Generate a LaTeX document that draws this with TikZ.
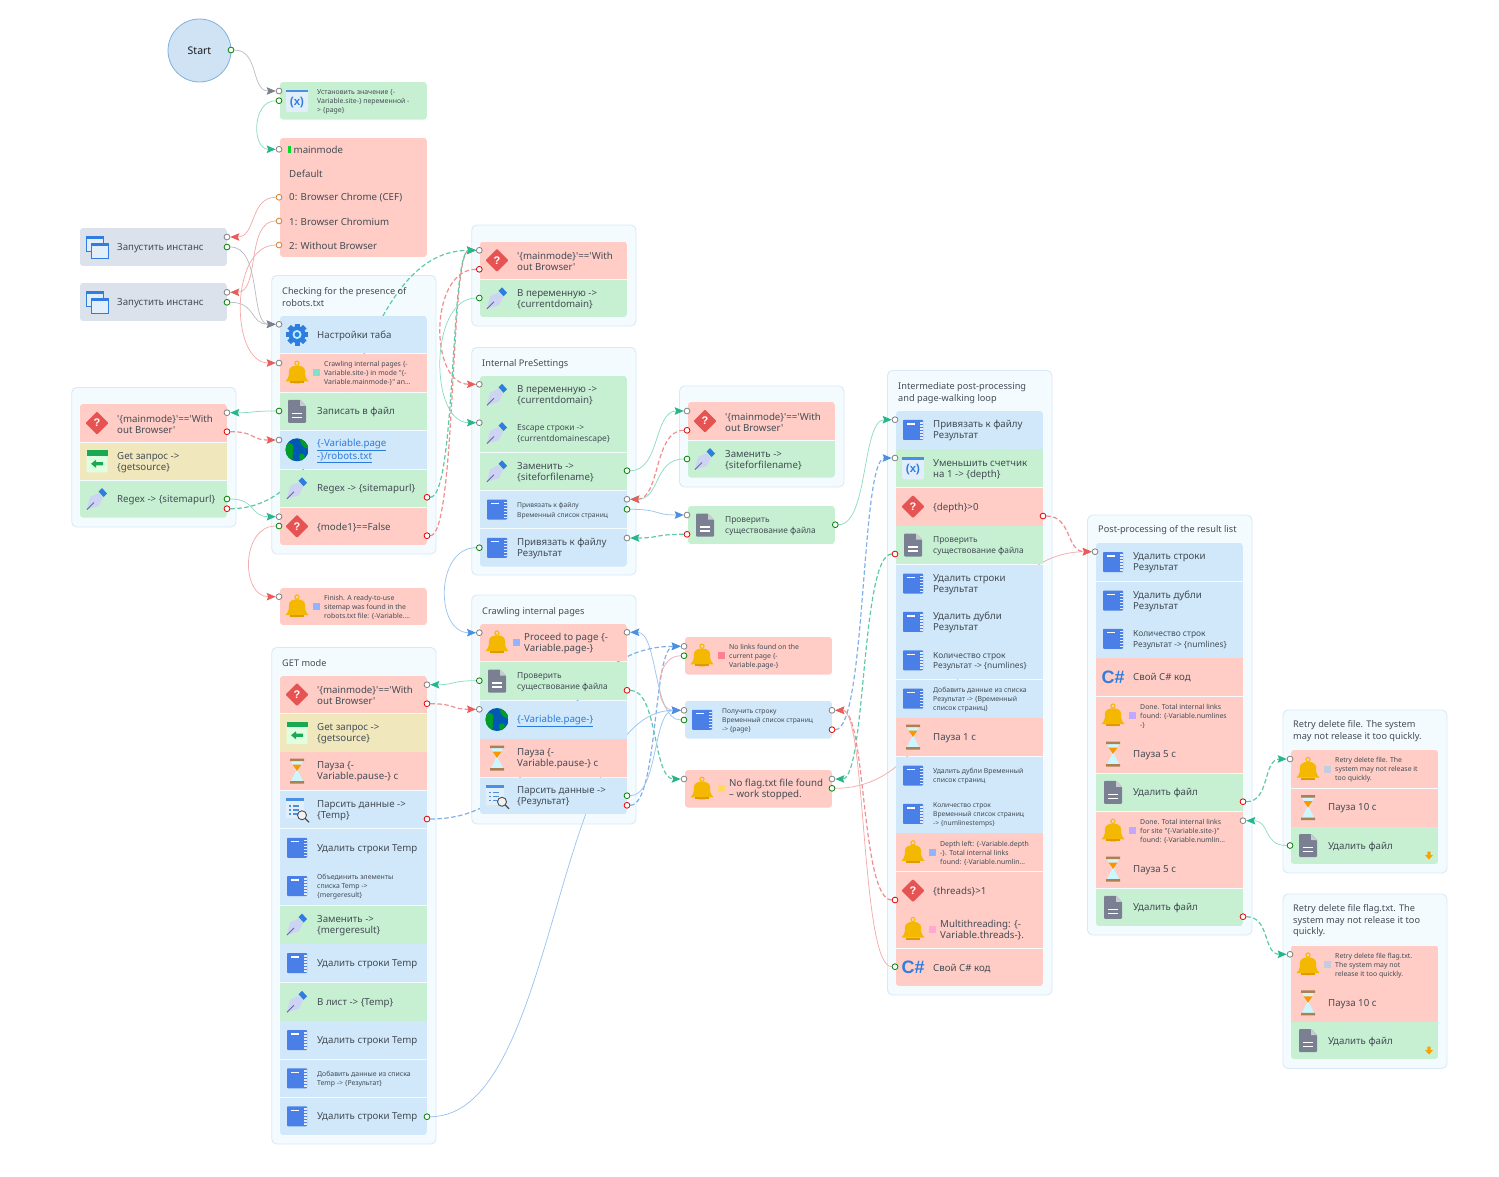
\documentclass[tikz,border=0pt]{standalone}
\usepackage{fontspec}
\usetikzlibrary{arrows.meta}
\newfontfamily\uifont{Noto Sans}
\newfontfamily\uibold{Liberation Sans}
\definecolor{rowred}{HTML}{FFCDC6}
\definecolor{rowgreen}{HTML}{C7F0D2}
\definecolor{rowblue}{HTML}{D0E8F9}
\definecolor{rowyellow}{HTML}{F0E8BC}
\definecolor{rowslate}{HTML}{DCE2EC}
\definecolor{grpfill}{HTML}{F4FBFF}
\definecolor{grpline}{HTML}{D8E9F8}
\definecolor{txt}{HTML}{434C55}
\definecolor{linkb}{HTML}{2A7BE0}
\definecolor{tealS}{HTML}{8EDCC4}
\definecolor{tealL}{HTML}{5CC9A7}
\definecolor{tealA}{HTML}{27B58A}
\definecolor{salmS}{HTML}{F4ABAB}
\definecolor{salmL}{HTML}{EE8E8E}
\definecolor{salmA}{HTML}{E85C5C}
\definecolor{blueS}{HTML}{9CC4F0}
\definecolor{blueL}{HTML}{7FB0EA}
\definecolor{blueA}{HTML}{4A90E2}
\definecolor{greyL}{HTML}{BDBDC4}
\definecolor{greyA}{HTML}{7A8090}
\definecolor{qred}{HTML}{E55353}
\definecolor{docg}{HTML}{7A7F92}
\definecolor{bookb}{HTML}{4A7FE8}
\definecolor{gold}{HTML}{F5B800}
\definecolor{golddk}{HTML}{E09A00}
\definecolor{gearb}{HTML}{2F7DE1}
\definecolor{nibl}{HTML}{CDD3F2}
\definecolor{varbg}{HTML}{E3EEFB}
\definecolor{sqteal}{HTML}{80E0C8}
\definecolor{sqblue}{HTML}{90B4FF}
\definecolor{sqviolet}{HTML}{C0A8FF}
\definecolor{sqpink}{HTML}{FFA8D0}
\definecolor{sqred}{HTML}{FF8090}
\definecolor{sqyellow}{HTML}{FFD860}
\definecolor{sqgrey}{HTML}{C4CCE0}
\definecolor{startfill}{HTML}{D0E3F5}
\definecolor{startline}{HTML}{7FB0E0}
\newcommand\szA{\uifont\fontsize{9.7}{11}\selectfont}
\newcommand\szB{\uifont\fontsize{8.4}{10.5}\selectfont}
\newcommand\szC{\uifont\fontsize{6.7}{10}\selectfont}
\newcommand\szD{\uifont\fontsize{6.9}{9}\selectfont}
\newcommand\szE{\uifont\fontsize{6.7}{9}\selectfont}
\newcommand\szH{\uifont\fontsize{9.2}{11.5}\selectfont}
\tikzset{
 rowshape/.style={minimum width=147pt,inner sep=0pt,outer sep=0pt,draw=none},
 rowtext/.style={inner sep=0pt,align=left,text=txt},
 headtext/.style={inner sep=0pt,align=left,text=txt,anchor=north west,font=\szH},
 grpbox/.style={fill=grpfill,draw=grpline,line width=.9pt,rounded corners=5pt},
 portbase/.style={circle,fill=white,minimum size=5.8pt,inner sep=0pt,line width=.8pt},
 pin/.style={portbase,draw=gray},
 pok/.style={portbase,draw=green!50!black},
 perr/.style={portbase,draw=red!90!black},
 pcase/.style={portbase,draw=brown!70!orange},
 cteal/.style={draw=tealS,line width=.75pt,-{Stealth[length=9pt,width=7.5pt,inset=1.5pt,color=tealA]}},
 ctealdash/.style={draw=tealL,line width=1.2pt,dash pattern=on 4.5pt off 2.5pt,-{Stealth[length=9pt,width=7.5pt,inset=1.5pt,color=tealA]}},
 csalm/.style={draw=salmS,line width=.75pt,-{Stealth[length=9pt,width=7.5pt,inset=1.5pt,color=salmA]}},
 csalmdash/.style={draw=salmL,line width=1.2pt,dash pattern=on 4.5pt off 2.5pt,-{Stealth[length=9pt,width=7.5pt,inset=1.5pt,color=salmA]}},
 cblue/.style={draw=blueS,line width=.75pt,-{Stealth[length=9pt,width=7.5pt,inset=1.5pt,color=blueA]}},
 cbluedash/.style={draw=blueL,line width=1.2pt,dash pattern=on 4.5pt off 2.5pt,-{Stealth[length=9pt,width=7.5pt,inset=1.5pt,color=blueA]}},
 cgrey/.style={draw=greyL,line width=.75pt,-{Stealth[length=9pt,width=7.5pt,inset=1.5pt,color=greyA]}},
}
\pgfdeclarelayer{grp}\pgfdeclarelayer{cnn}\pgfdeclarelayer{rws}
\pgfsetlayers{grp,cnn,rws,main}
% icons, drawn about (0,0), y downwards
\newcommand\icQ{\fill[qred,rounded corners=1pt] (0,-11.5)--(11.5,0)--(0,11.5)--(-11.5,0)--cycle;
 \node[text=white,inner sep=0pt,font=\uibold\fontsize{11}{11}\selectfont\bfseries] (qmark) at (0,0) {?};}
\newcommand\icDoc{\fill[docg,rounded corners=1pt] (-9,-11.5)--(3,-11.5)--(9,-5.5)--(9,11.5)--(-9,11.5)--cycle;
 \fill[docg!40!white] (3,-11.5)--(9,-5.5)--(3,-5.5)--cycle;
 \draw[white,line width=1.3pt] (-5,2)--(5,2) (-5,6)--(5,6);}
\newcommand\icBook{\fill[bookb,rounded corners=.8pt] (-10,-10) rectangle (10,10);
 \draw[white,line width=1.2pt] (-6,-6)--(2,-6);
 \foreach \k in {-8,-5,-2,1,4,7}{\fill[white!85!bookb] (6.5,\k) rectangle (10,\k+1.6);}}
\newcommand\icPen{\fill[nibl] (-10,10.5)--(-7,-2)--(1.5,-6)--(6,-1.5)--(2,7)--cycle;
 \fill[gearb] (1.5,-7.5)--(5,-11)--(10,-5.5)--(6.5,-2)--cycle;
 \draw[gray!80!blue,line width=.8pt] (-10,10.5)--(-3,3.5);}
\newcommand\icBell{\fill[gold] (-11.5,8.5) .. controls (-8,5) and (-8,2) .. (-8,-2) .. controls (-8,-9) and (8,-9) .. (8,-2) .. controls (8,2) and (8,5) .. (11.5,8.5) -- cycle;
 \fill[golddk] (-7,8.5) rectangle (7,10.5);
 \fill[golddk] (-3,10.5) arc (180:0:3 and -1.6) -- cycle;
 \draw[gold,line width=1pt] (0,-9.5) circle (2.1pt);}
\newcommand\icGlobe{\begin{scope}\clip (0,0) circle (11.5pt);
 \fill[blue!50!cyan!70!black] (-12,-12) rectangle (12,12);
 \fill[green!55!black!85!cyan] (-11,-6) .. controls (-5,-9) and (-2,-3) .. (-4,1) .. controls (-5,6) and (-3,9) .. (-6,12) -- (-12,12) -- cycle;
 \fill[green!55!black!85!cyan] (3,-11) .. controls (8,-9) and (12,-5) .. (11,-1) .. controls (6,-2) and (3,-6) .. (3,-11) -- cycle;
 \fill[green!55!black!85!cyan] (3,4) .. controls (8,3) and (10,7) .. (5,11) .. controls (2,9) and (1,6) .. (3,4) -- cycle;
 \end{scope}}
\newcommand\icHour{\fill[blue!15!cyan!20!white] (-6,-10)--(6,-10)--(1,0)--(6,10)--(-6,10)--(-1,0)--cycle;
 \fill[orange!85!yellow] (-4.5,-6.5)--(4.5,-6.5)--(0,0)--cycle;
 \fill[brown!70!gray] (-7,-12.5) rectangle (7,-10) (-7,10) rectangle (7,12.5);}
\newcommand\icVar{\fill[varbg,rounded corners=1.5pt] (-11,-11) rectangle (11,11);
 \fill[blueA] (-11,-11) rectangle (11,-8.5);
 \node[text=gearb,inner sep=0pt,font=\uibold\fontsize{11.5}{11.5}\selectfont\bfseries] (varmark) at (0,1.5) {(x)};}
\newcommand\icGet{\fill[green!12!white,rounded corners=1pt] (-10.5,-11) rectangle (10.5,11);
 \fill[green!50!black!75!cyan!90!white] (-10.5,-11) rectangle (10.5,-5.5);
 \fill[green!50!black!75!cyan!90!white] (-6,2.5)--(-1,-1.5)--(-1,.8)--(6,.8)--(6,4.2)--(-1,4.2)--(-1,6.5)--cycle;}
\newcommand\icParse{\fill[varbg] (-11,-11) rectangle (7,9);
 \fill[blueA] (-11,-11) rectangle (7,-8);
 \foreach \k in {-4,0,4}{\fill[blueA] (-8,\k) rectangle (-6,\k+1.6);\fill[blueA] (-4,\k) rectangle (2,\k+1.6);}
 \fill[white!90!gray,draw=gray!60!black,line width=.9pt] (5,6) circle (4.5pt);
 \draw[gray!60!black,line width=1.1pt] (8.2,9.2)--(12,13);}
\newcommand\icGear{\foreach \a in {0,45,...,315}{\fill[gearb,rotate=\a] (-2.5,-11) rectangle (2.5,0);}
 \fill[gearb] (0,0) circle (8.5pt);
 \fill[blue!10!cyan!30!white] (0,0) circle (4.5pt);
 \fill[gearb] (0,0) circle (2.5pt);}
\newcommand\icWin{\fill[varbg,draw=gearb,line width=.9pt] (-10.5,-11) rectangle (6,4);
 \fill[gearb] (-10.5,-11) rectangle (6,-8.5);
 \fill[varbg,draw=gearb,line width=.9pt] (-5.5,-4) rectangle (11,11);
 \fill[gearb] (-5.5,-4) rectangle (11,-1.5);}
\newcommand\icCs{\node[text=gearb,inner sep=0pt,font=\uibold\fontsize{18}{18}\selectfont\bfseries] (csmark) at (0,0) {C\#};}
\newcommand\icDown{\fill[orange!75!yellow] (-1.6,-4)--(1.6,-4)--(1.6,-.5)--(4,-.5)--(0,4)--(-4,-.5)--(-1.6,-.5)--cycle;}
% rows
\newcommand\rowi[8]{\node[rowshape,fill=#5,minimum height={#4-#3},anchor=north west] (#1) at (#2,#3) {};
 \begin{scope}[shift={({#2+17},{(#3+#4)/2})}]#6\end{scope}
 \node[rowtext,anchor=west,font=#7] (#1t) at ({#2+37},{(#3+#4)/2+1}) {#8};}
\newcommand\rowb[8]{\node[rowshape,fill=#5,minimum height={#4-#3},anchor=north west] (#1) at (#2,#3) {};
 \begin{scope}[shift={({#2+17},{(#3+#4)/2})}]\icBell\end{scope}
 \fill[#6] ({#2+33},{(#3+#4)/2-3.5}) rectangle ({#2+40},{(#3+#4)/2+3.5});
 \node[rowtext,anchor=west,font=#7] (#1t) at ({#2+44},{(#3+#4)/2+1}) {#8};}
\newcommand\grpbg[4]{\begin{pgfonlayer}{grp}\draw[grpbox] (#1,#2) rectangle (#3,#4);\end{pgfonlayer}}
\newcommand\rowclip[3]{\clip[rounded corners=3pt] (#1,#2) rectangle ({#1+147},#3);}
\newcommand\cnx[7]{\draw[#1] (#2) to[out=#3,in=#6,out distance=#4pt,in distance=#7pt] (#5);}
\newcommand\prt[4]{\node[#1] (#2) at (#3,#4) {};}
\begin{document}
\begin{tikzpicture}[x=1pt,y=-1pt]
\useasboundingbox (0,0) rectangle (1499,1176);
% groups
\grpbg{271.7}{275.5}{436}{554}
\grpbg{71.7}{387.5}{236}{527}
\grpbg{471.7}{225}{636}{326}
\grpbg{471.7}{347.5}{636}{575}
\grpbg{679.5}{386}{844}{487}
\grpbg{471.7}{595}{636}{824}
\grpbg{271.7}{647.5}{436}{1144}
\grpbg{887.5}{370.5}{1052}{995}
\grpbg{1087.5}{515}{1252}{935}
\grpbg{1283}{710}{1447}{873}
\grpbg{1283}{894}{1447}{1068.5}
% ports
\prt{pok}{pStart}{231}{50}
\prt{pin}{pAin}{279}{91} \prt{pok}{pAok}{279}{100.7}
\prt{pin}{pMin}{279}{149.3} \prt{pcase}{pM0}{279}{197.3} \prt{pcase}{pMa}{279}{221} \prt{pcase}{pMb}{279}{245}
\prt{pin}{pZaIn}{227}{237} \prt{pok}{pZaOk}{227}{247}
\prt{pin}{pZbIn}{227}{292.3} \prt{pok}{pZbOk}{227}{302.3}
\prt{pin}{pTab}{279}{324.3} \prt{pin}{pBell}{279}{363} \prt{pok}{pWr}{279}{411}
\prt{pin}{pLin}{227}{412.7} \prt{perr}{pLerr}{227}{431.7} \prt{pin}{pGlobe}{279}{440}
\prt{pok}{pLrOk}{227}{499} \prt{perr}{pLrErr}{227}{508.7} \prt{perr}{pRxErr}{427}{497.3}
\prt{pin}{pModeIn}{279}{516.7} \prt{pok}{pModeOk}{279}{526} \prt{perr}{pModeErr}{427}{535.7}
\prt{pin}{pFin}{279}{596.7}
\prt{pin}{pTrIn}{479.3}{250.3} \prt{perr}{pTrErr}{479.3}{269.3} \prt{pok}{pTrOk}{479.3}{298}
\prt{pin}{pIntIn}{479.3}{384.3} \prt{pin}{pEscIn}{479.3}{422.7} \prt{pok}{pZamOk}{627}{470.7}
\prt{pin}{pPrivIn}{627}{499.3} \prt{pok}{pPrivOk}{627}{509.3}
\prt{pin}{pResIn}{627}{538} \prt{pok}{pResOk}{479.3}{547.7}
\prt{pin}{pIIn}{687}{411} \prt{perr}{pIErr}{687}{430.3} \prt{pok}{pIOk}{687}{459}
\prt{pin}{pChkIn}{687}{515} \prt{perr}{pChkErr}{687}{534.3} \prt{pok}{pChkOk}{835.3}{524.7}
\prt{pin}{pProcL}{479.3}{632.7} \prt{pin}{pProcR}{627}{632.3}
\prt{pok}{pCpOk}{479.3}{680.7} \prt{perr}{pCpErr}{627}{690.3} \prt{pin}{pGlobeB}{479.3}{709.3}
\prt{pok}{pPsOk}{627}{795.7} \prt{perr}{pPsErr}{627}{805.3}
\prt{pin}{pNoIn}{684}{646.3} \prt{pok}{pNoOk}{684}{655.7}
\prt{pin}{pGsIn}{684}{710.3} \prt{pok}{pGsOk}{684}{720} \prt{pin}{pGsR}{832}{710.3} \prt{perr}{pGsErr}{832}{729.7}
\prt{pin}{pFlIn}{684}{779} \prt{pin}{pFlR}{832}{779} \prt{pok}{pFlOk}{832}{788.3}
\prt{pin}{pGetIn}{427}{684.7} \prt{perr}{pGetErr}{427}{703.7} \prt{perr}{pTmpErr}{427}{819} \prt{pok}{pLast}{427}{1116.7}
\prt{pin}{pIaIn}{895}{419.7} \prt{pin}{pIbIn}{895}{458} \prt{perr}{pDepth}{1043}{516} \prt{perr}{pIcErr}{895}{554}
\prt{perr}{pThr}{895}{900} \prt{pok}{pCs}{895}{966.7}
\prt{pin}{pPost}{1095}{551.7} \prt{perr}{pDelA}{1243}{801.7} \prt{pin}{pDoneR}{1243}{820.7} \prt{perr}{pDelB}{1243}{916.7}
\prt{pin}{pRaIn}{1290}{759} \prt{pok}{pRaOk}{1290}{845.5} \prt{pin}{pRbIn}{1290}{954.3}
% connectors
\begin{pgfonlayer}{cnn}
\cnx{cgrey}{pStart}{0}{25}{pAin}{180}{25}
\cnx{cteal}{pAok}{180}{24}{pMin}{180}{24}
\cnx{csalm}{pM0}{180}{26}{pZaIn}{0}{26}
\cnx{csalm}{pMa}{180}{30}{pZbIn}{0}{30}
\cnx{csalm}{pMb}{180}{46}{pBell}{180}{46}
\cnx{cgrey}{pZaOk}{0}{32}{pTab}{180}{26}
\cnx{cgrey}{pZbOk}{0}{26}{pTab}{180}{26}
\cnx{cteal}{pWr}{180}{26}{pLin}{0}{26}
\cnx{csalmdash}{pLerr}{0}{26}{pGlobe}{180}{26}
\cnx{cteal}{pLrOk}{0}{26}{pModeIn}{180}{26}
\cnx{csalmdash}{pModeErr}{0}{26}{pTrIn}{180}{26}
\cnx{ctealdash}{pLrErr}{0}{126}{pTrIn}{180}{126}
\cnx{ctealdash}{pRxErr}{0}{26}{pTrIn}{180}{26}
\cnx{csalmdash}{pTrErr}{180}{47}{pIntIn}{180}{47}
\cnx{cteal}{pTrOk}{180}{47}{pEscIn}{180}{47}
\cnx{csalm}{pModeOk}{180}{35}{pFin}{180}{35}
\cnx{cteal}{pZamOk}{0}{30}{pIIn}{180}{30}
\cnx{cteal}{pIOk}{180}{30}{pPrivIn}{0}{30}
\cnx{csalmdash}{pIErr}{180}{30}{pPrivIn}{0}{30}
\cnx{cblue}{pPrivOk}{0}{30}{pChkIn}{180}{30}
\cnx{ctealdash}{pChkErr}{180}{30}{pResIn}{0}{30}
\cnx{cteal}{pChkOk}{0}{30}{pIaIn}{180}{30}
\cnx{cblue}{pResOk}{180}{41}{pProcL}{180}{41}
\cnx{cblue}{pGsOk}{180}{28}{pProcR}{0}{28}
\cnx{cteal}{pCpOk}{180}{26}{pGetIn}{0}{26}
\cnx{csalmdash}{pGetErr}{0}{26}{pGlobeB}{180}{26}
\cnx{ctealdash}{pCpErr}{0}{28}{pFlIn}{180}{28}
\cnx{cbluedash}{pTmpErr}{0}{128}{pNoIn}{180}{128}
\cnx{cbluedash}{pPsErr}{0}{28}{pNoIn}{180}{28}
\cnx{csalm}{pNoOk}{180}{27}{pGsIn}{180}{27}
\cnx{cblue}{pPsOk}{0}{28}{pGsIn}{180}{28}
\cnx{cblue}{pLast}{0}{128}{pGsIn}{180}{128}
\cnx{cbluedash}{pGsErr}{0}{31}{pIbIn}{180}{31}
\cnx{ctealdash}{pIcErr}{180}{31}{pFlR}{0}{31}
\cnx{csalmdash}{pThr}{180}{31}{pGsR}{0}{31}
\cnx{csalm}{pCs}{180}{31}{pGsR}{0}{31}
\cnx{csalm}{pFlOk}{0}{131}{pPost}{180}{131}
\cnx{csalmdash}{pDepth}{0}{26}{pPost}{180}{26}
\cnx{ctealdash}{pDelA}{0}{24}{pRaIn}{180}{24}
\cnx{cteal}{pRaOk}{180}{24}{pDoneR}{0}{24}
\cnx{ctealdash}{pDelB}{0}{24}{pRbIn}{180}{24}
\end{pgfonlayer}
% start
\begin{pgfonlayer}{rws}
\node[circle,minimum size=63pt,inner sep=0pt,fill=startfill,draw=startline,line width=.8pt,text=black!90,font=\uifont\fontsize{10.5}{11}\selectfont] (start) at (199.5,50.5) {Start};
% set variable
\begin{scope}\rowclip{280}{82}{119.5}
\rowi{nA}{280}{82}{119.5}{rowgreen}{\icVar}{\szD}{Установить значение \{-\\Variable.site-\} переменной -\\> \{page\}}
\end{scope}
% mainmode
\begin{scope}\rowclip{280}{138}{257}
\node[rowshape,fill=rowred,minimum height=119pt,anchor=north west] (nM) at (280,138) {};
\fill[green!70!teal] (287.5,145.5) rectangle (290.5,153);
\node[rowtext,anchor=west,font=\szA] (nMt) at (293.5,149.5) {mainmode};
\node[rowtext,anchor=west,font=\szA] (nMd) at (289,173.5) {Default};
\node[rowtext,anchor=west,font=\szA] (nMa) at (289,197.8) {0: Browser Chrome (CEF)};
\node[rowtext,anchor=west,font=\szA] (nMb) at (289,221.5) {1: Browser Chromium};
\node[rowtext,anchor=west,font=\szA] (nMc) at (289,245.5) {2: Without Browser};
\end{scope}
% instances
\begin{scope}\rowclip{80}{228}{266}
\rowi{nZa}{80}{228}{266}{rowslate}{\icWin}{\szA}{Запустить инстанс}
\end{scope}
\begin{scope}\rowclip{80}{283}{321}
\rowi{nZb}{80}{283}{321}{rowslate}{\icWin}{\szA}{Запустить инстанс}
\end{scope}
% checking
\node[headtext] (hCheck) at (282,287.5) {Checking for the presence of\\robots.txt};
\begin{scope}\rowclip{280}{316}{545}
\rowi{cTab}{280}{316}{353}{rowblue}{\icGear}{\szA}{Настройки таба}
\rowb{cBell}{280}{354}{391.5}{rowred}{sqteal}{\szD}{Crawling internal pages \{-\\Variable.site-\} in mode "\{-\\Variable.mainmode-\}" an…}
\rowi{cWr}{280}{392.5}{430}{rowgreen}{\icDoc}{\szA}{Записать в файл}
\rowi{cGlobe}{280}{431}{468.5}{rowblue}{\icGlobe}{\szA}{\color{linkb}\underline{\{-Variable.page}\\\color{linkb}\underline{-\}/robots.txt}}
\rowi{cRx}{280}{469.5}{507}{rowgreen}{\icPen}{\szA}{Regex -> \{sitemapurl\}}
\rowi{cMode}{280}{507.5}{545}{rowred}{\icQ}{\szA}{\{mode1\}==False}
\end{scope}
% finish
\begin{scope}\rowclip{280}{588}{625}
\rowb{nFin}{280}{588}{625}{rowred}{sqblue}{\szD}{Finish. A ready-to-use\\sitemap was found in the\\robots.txt file: \{-Variable.…}
\end{scope}
% left group
\begin{scope}\rowclip{80}{404}{517.5}
\rowi{lQ}{80}{404}{442}{rowred}{\icQ}{\szA}{'\{mainmode\}'=='With\\out Browser'}
\rowi{lGet}{80}{442.5}{480}{rowyellow}{\icGet}{\szA}{Get запрос ->\\\{getsource\}}
\rowi{lRx}{80}{480.5}{517.5}{rowgreen}{\icPen}{\szA}{Regex -> \{sitemapurl\}}
\end{scope}
% top right
\begin{scope}\rowclip{480}{241.5}{317}
\rowi{tQ}{480}{241.5}{279}{rowred}{\icQ}{\szA}{'\{mainmode\}'=='With\\out Browser'}
\rowi{tPen}{480}{279.5}{317}{rowgreen}{\icPen}{\szA}{В переменную ->\\\{currentdomain\}}
\end{scope}
% internal presettings
\node[headtext] (hInt) at (482,359.5) {Internal PreSettings};
\begin{scope}\rowclip{480}{376}{566.5}
\rowi{iA}{480}{376}{413.5}{rowgreen}{\icPen}{\szA}{В переменную ->\\\{currentdomain\}}
\rowi{iB}{480}{414}{452}{rowgreen}{\icPen}{\szB}{Escape строки ->\\\{currentdomainescape\}}
\rowi{iC}{480}{452.5}{490}{rowgreen}{\icPen}{\szA}{Заменить ->\\\{siteforfilename\}}
\rowi{iD}{480}{491}{528}{rowblue}{\icBook}{\szC}{Привязать к файлу\\Временный список страниц}
\rowi{iE}{480}{529}{566.5}{rowblue}{\icBook}{\szA}{Привязать к файлу\\Результат}
\end{scope}
% inner replace group
\begin{scope}\rowclip{688}{402}{477.5}
\rowi{rQ}{688}{402}{440}{rowred}{\icQ}{\szA}{'\{mainmode\}'=='With\\out Browser'}
\rowi{rPen}{688}{440.5}{477.5}{rowgreen}{\icPen}{\szA}{Заменить ->\\\{siteforfilename\}}
\end{scope}
\begin{scope}\rowclip{688}{506}{544}
\rowi{nChk}{688}{506}{544}{rowgreen}{\icDoc}{\szB}{Проверить\\существование файла}
\end{scope}
% crawling
\node[headtext] (hCrawl) at (482,607) {Crawling internal pages};
\begin{scope}\rowclip{480}{624}{814}
\rowb{wA}{480}{624}{661}{rowred}{sqblue}{\szA}{Proceed to page \{-\\Variable.page-\}}
\rowi{wB}{480}{662}{700}{rowgreen}{\icDoc}{\szB}{Проверить\\существование файла}
\rowi{wC}{480}{700.5}{738.5}{rowblue}{\icGlobe}{\szA}{\color{linkb}\underline{\{-Variable.page-\}}}
\rowi{wD}{480}{739}{777}{rowred}{\icHour}{\szA}{Пауза \{-\\Variable.pause-\} с}
\rowi{wE}{480}{777.5}{814}{rowblue}{\icParse}{\szA}{Парсить данные ->\\\{Результат\}}
\end{scope}
% singles
\begin{scope}\rowclip{685}{637}{674.5}
\rowb{nNo}{685}{637}{674.5}{rowred}{sqred}{\szD}{No links found on the\\current page \{-\\Variable.page-\}}
\end{scope}
\begin{scope}\rowclip{685}{701}{738.5}
\rowi{nGs}{685}{701}{738.5}{rowblue}{\icBook}{\szE}{Получить строку\\Временный список страниц\\-> \{page\}}
\end{scope}
\begin{scope}\rowclip{685}{770}{807.5}
\rowb{nFl}{685}{770}{807.5}{rowred}{sqyellow}{\szA}{No flag.txt file found\\– work stopped.}
\end{scope}
% GET mode
\node[headtext] (hGet) at (282,659.5) {GET mode};
\begin{scope}\rowclip{280}{676}{1135}
\rowi{gA}{280}{676}{713}{rowred}{\icQ}{\szA}{'\{mainmode\}'=='With\\out Browser'}
\rowi{gB}{280}{714}{751.5}{rowyellow}{\icGet}{\szA}{Get запрос ->\\\{getsource\}}
\rowi{gC}{280}{752}{790}{rowred}{\icHour}{\szA}{Пауза \{-\\Variable.pause-\} с}
\rowi{gD}{280}{790.5}{828}{rowblue}{\icParse}{\szA}{Парсить данные ->\\\{Temp\}}
\rowi{gE}{280}{829}{866.5}{rowblue}{\icBook}{\szA}{Удалить строки Temp}
\rowi{gF}{280}{867}{905}{rowblue}{\icBook}{\szD}{Объединить элементы\\списка Temp ->\\\{mergeresult\}}
\rowi{gG}{280}{905.5}{943.5}{rowgreen}{\icPen}{\szA}{Заменить ->\\\{mergeresult\}}
\rowi{gH}{280}{944}{982}{rowblue}{\icBook}{\szA}{Удалить строки Temp}
\rowi{gI}{280}{983}{1020.5}{rowgreen}{\icPen}{\szA}{В лист -> \{Temp\}}
\rowi{gJ}{280}{1021}{1059}{rowblue}{\icBook}{\szA}{Удалить строки Temp}
\rowi{gK}{280}{1059.5}{1097}{rowblue}{\icBook}{\szD}{Добавить данные из списка\\Temp -> \{Результат\}}
\rowi{gL}{280}{1097.5}{1135}{rowblue}{\icBook}{\szA}{Удалить строки Temp}
\end{scope}
% intermediate
\node[headtext] (hMid) at (898,382.5) {Intermediate post-processing\\and page-walking loop};
\begin{scope}\rowclip{896}{411}{986}
\rowi{mA}{896}{411}{448.8}{rowblue}{\icBook}{\szA}{Привязать к файлу\\Результат}
\rowi{mB}{896}{449.3}{487.2}{rowgreen}{\icVar}{\szA}{Уменьшить счетчик\\на 1 -> \{depth\}}
\rowi{mC}{896}{487.7}{525.5}{rowred}{\icQ}{\szA}{\{depth\}>0}
\rowi{mD}{896}{526}{564}{rowgreen}{\icDoc}{\szB}{Проверить\\существование файла}
\rowi{mE}{896}{564.5}{602.5}{rowblue}{\icBook}{\szA}{Удалить строки\\Результат}
\rowi{mF}{896}{603}{640.8}{rowblue}{\icBook}{\szA}{Удалить дубли\\Результат}
\rowi{mG}{896}{641.3}{679.2}{rowblue}{\icBook}{\szB}{Количество строк\\Результат -> \{numlines\}}
\rowi{mH}{896}{679.7}{717.5}{rowblue}{\icBook}{\szD}{Добавить данные из списка\\Результат -> \{Временный\\список страниц\}}
\rowi{mI}{896}{718}{756}{rowred}{\icHour}{\szA}{Пауза 1 с}
\rowi{mJ}{896}{756.5}{794.5}{rowblue}{\icBook}{\szD}{Удалить дубли Временный\\список страниц}
\rowi{mK}{896}{795}{832.8}{rowblue}{\icBook}{\szE}{Количество строк\\Временный список страниц\\-> \{numlinestemps\}}
\rowb{mL}{896}{833.3}{871.2}{rowred}{sqblue}{\szD}{Depth left: \{-Variable.depth\\-\}. Total internal links\\found: \{-Variable.numlin…}
\rowi{mM}{896}{871.7}{909.5}{rowred}{\icQ}{\szA}{\{threads\}>1}
\rowb{mN}{896}{910}{948}{rowred}{sqpink}{\szA}{Multithreading: \{-\\Variable.threads-\}.}
\rowi{mO}{896}{948.5}{986}{rowred}{\icCs}{\szA}{Свой C\# код}
\end{scope}
% post-processing
\node[headtext] (hPost) at (1098,525) {Post-processing of the result list};
\begin{scope}\rowclip{1096}{543}{926}
\rowi{sA}{1096}{543}{581}{rowblue}{\icBook}{\szA}{Удалить строки\\Результат}
\rowi{sB}{1096}{581.5}{619.5}{rowblue}{\icBook}{\szA}{Удалить дубли\\Результат}
\rowi{sC}{1096}{620}{657.5}{rowblue}{\icBook}{\szB}{Количество строк\\Результат -> \{numlines\}}
\rowi{sD}{1096}{658}{696}{rowred}{\icCs}{\szA}{Свой C\# код}
\rowb{sE}{1096}{696.5}{734.5}{rowred}{sqviolet}{\szD}{Done. Total internal links\\found: \{-Variable.numlines\\-\}}
\rowi{sF}{1096}{735}{773}{rowred}{\icHour}{\szA}{Пауза 5 с}
\rowi{sG}{1096}{773.5}{811}{rowgreen}{\icDoc}{\szA}{Удалить файл}
\rowb{sH}{1096}{812}{849.5}{rowred}{sqviolet}{\szD}{Done. Total internal links\\for site "\{-Variable.site-\}"\\found: \{-Variable.numlin…}
\rowi{sI}{1096}{850}{888}{rowred}{\icHour}{\szA}{Пауза 5 с}
\rowi{sJ}{1096}{888.5}{926}{rowgreen}{\icDoc}{\szA}{Удалить файл}
\end{scope}
% retry 1
\node[headtext] (hRa) at (1293,720.5) {Retry delete file. The system\\may not release it too quickly.};
\begin{scope}\rowclip{1291}{750}{864}
\rowb{aA}{1291}{750}{788}{rowred}{sqgrey}{\szD}{Retry delete file. The\\system may not release it\\too quickly.}
\rowi{aB}{1291}{788.5}{826.5}{rowred}{\icHour}{\szA}{Пауза 10 с}
\rowi{aC}{1291}{827}{864}{rowgreen}{\icDoc}{\szA}{Удалить файл}
\begin{scope}[shift={(1429,855.5)}]\icDown\end{scope}
\end{scope}
% retry 2
\node[headtext] (hRb) at (1293,904.5) {Retry delete file flag.txt. The\\system may not release it too\\quickly.};
\begin{scope}\rowclip{1291}{945.5}{1059}
\rowb{bA}{1291}{945.5}{983.5}{rowred}{sqgrey}{\szD}{Retry delete file flag.txt.\\The system may not\\release it too quickly.}
\rowi{bB}{1291}{984}{1021.5}{rowred}{\icHour}{\szA}{Пауза 10 с}
\rowi{bC}{1291}{1022}{1059}{rowgreen}{\icDoc}{\szA}{Удалить файл}
\begin{scope}[shift={(1429,1050.5)}]\icDown\end{scope}
\end{scope}
\end{pgfonlayer}
\end{tikzpicture}
\end{document}
